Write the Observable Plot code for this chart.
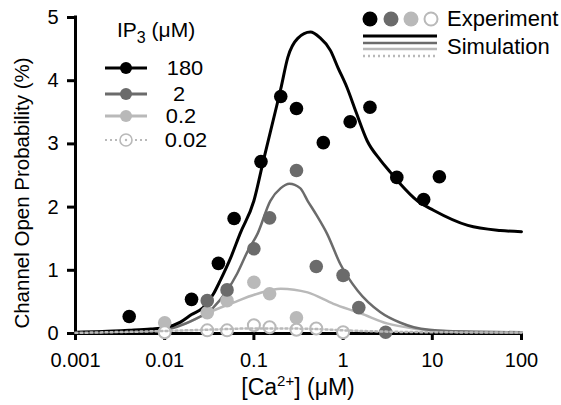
<!DOCTYPE html>
<html>
<head>
<meta charset="utf-8">
<script src="https://cdn.jsdelivr.net/npm/d3@7"></script>
<script src="https://cdn.jsdelivr.net/npm/@observablehq/plot@0.6"></script>
<style>
  html, body { margin: 0; padding: 0; background: #fff; }
</style>
</head>
<body>
<div id="chart"></div>
<script>
// ---- Data ----
const xTicks = [0.001, 0.01, 0.1, 1, 10, 100];
const xTickLabels = ["0.001", "0.01", "0.1", "1", "10", "100"];
const yTicks = [0, 1, 2, 3, 4, 5];

const series = ["180", "2", "0.2", "0.02"];

// Experiment (dots)
const expCa180 = [0.004, 0.02, 0.04, 0.06, 0.12, 0.2, 0.3, 0.6, 1.2, 2, 4, 8, 12];
const expPo180 = [0.27, 0.54, 1.11, 1.82, 2.72, 3.75, 3.56, 3.02, 3.35, 3.58, 2.47, 2.12, 2.48];
const expCa2 = [0.03, 0.05, 0.1, 0.15, 0.3, 0.5, 1, 1.5, 3];
const expPo2 = [0.52, 0.69, 1.34, 1.83, 2.58, 1.06, 0.92, 0.41, 0.02];
const expCa02 = [0.01, 0.03, 0.05, 0.1, 0.15, 0.3];
const expPo02 = [0.17, 0.33, 0.52, 0.81, 0.63, 0.25];
const expCa002 = [0.01, 0.03, 0.05, 0.1, 0.15, 0.3, 0.5, 1];
const expPo002 = [0.02, 0.05, 0.05, 0.13, 0.1, 0.06, 0.08, 0.02];

// Simulation (curves)
const simCa180 = [0.001, 0.002, 0.004, 0.007, 0.01, 0.015, 0.02, 0.027, 0.035, 0.042, 0.055, 0.07, 0.1, 0.128, 0.18, 0.2, 0.24, 0.31, 0.43, 0.55, 0.72, 0.88, 1.1, 1.4, 1.86, 2.63, 3.4, 4.36, 6.8, 10.3, 25, 58, 100];
const simPo180 = [0.02, 0.03, 0.05, 0.07, 0.09, 0.18, 0.30, 0.41, 0.62, 0.84, 1.2, 1.58, 2.1, 2.74, 3.6, 3.87, 4.37, 4.67, 4.77, 4.68, 4.48, 4.2, 3.9, 3.5, 3.05, 2.74, 2.55, 2.37, 2.1, 1.95, 1.71, 1.63, 1.61];
const simCa2 = [0.001, 0.004, 0.01, 0.02, 0.035, 0.05, 0.065, 0.085, 0.11, 0.153, 0.2, 0.25, 0.33, 0.4, 0.5, 0.66, 0.93, 1.45, 2.6, 4.4, 6.2, 14.7, 100];
const simPo2 = [0.02, 0.03, 0.06, 0.2, 0.41, 0.68, 0.95, 1.3, 1.58, 2.1, 2.3, 2.37, 2.3, 2.1, 1.88, 1.58, 1.1, 0.68, 0.34, 0.17, 0.1, 0.04, 0.02];
const simCa02 = [0.001, 0.004, 0.01, 0.018, 0.03, 0.059, 0.11, 0.2, 0.4, 0.78, 1.57, 3.1, 6.2, 20, 100];
const simPo02 = [0.02, 0.04, 0.08, 0.17, 0.32, 0.49, 0.63, 0.71, 0.65, 0.47, 0.32, 0.16, 0.08, 0.03, 0.02];
const simCa002 = [0.001, 0.01, 0.03, 0.1, 0.2, 0.5, 1, 3, 10, 100];
const simPo002 = [0.01, 0.04, 0.06, 0.08, 0.08, 0.07, 0.05, 0.03, 0.02, 0.015];

const colors = {"180": "#000000", "2": "#6b6b6b", "0.2": "#b9b9b9", "0.02": "#b9b9b9"};

const toRows = (xs, ys) => xs.map((x, i) => ({ca: x, po: ys[i]}));
const exp180 = toRows(expCa180, expPo180);
const exp2 = toRows(expCa2, expPo2);
const exp02 = toRows(expCa02, expPo02);
const exp002 = toRows(expCa002, expPo002);
const sim180 = toRows(simCa180, simPo180);
const sim2 = toRows(simCa2, simPo2);
const sim02 = toRows(simCa02, simPo02);
const sim002 = toRows(simCa002, simPo002);

const W = 561, H = 405;
const FONT = "'Liberation Sans', Arial, Helvetica, sans-serif";

const chart = Plot.plot({
  width: W,
  height: H,
  marginLeft: 75,
  marginRight: 40,
  marginTop: 17,
  marginBottom: 72,
  style: {fontFamily: FONT, background: "#fff", color: "#000", overflow: "visible"},
  x: {type: "log", domain: [0.001, 100]},
  y: {domain: [0, 5]},
  marks: [
    Plot.axisX({ticks: xTicks, tickFormat: d => xTickLabels[xTicks.indexOf(d)], tickSize: 7, tickPadding: 12, strokeWidth: 3, fontSize: 20, label: null}),
    Plot.axisY({ticks: yTicks, tickFormat: d => String(d), tickSize: 8, tickPadding: 9, strokeWidth: 3, fontSize: 20, label: null}),
    Plot.ruleY([0], {x1: 0.001, x2: 100, stroke: "#000", strokeWidth: 3}),
    Plot.ruleX([0.001], {y1: 0, y2: 5, stroke: "#000", strokeWidth: 3, strokeLinecap: "square"}),
    Plot.line(sim02, {x: "ca", y: "po", stroke: colors["0.2"], strokeWidth: 2.5, curve: "monotone-x"}),
    Plot.line(sim2, {x: "ca", y: "po", stroke: colors["2"], strokeWidth: 2.5, curve: "monotone-x"}),
    Plot.line(sim180, {x: "ca", y: "po", stroke: colors["180"], strokeWidth: 3, curve: "monotone-x"}),
    Plot.dot(exp02, {x: "ca", y: "po", r: 6.8, fill: colors["0.2"], stroke: "none"}),
    Plot.dot(exp2, {x: "ca", y: "po", r: 6.8, fill: colors["2"], stroke: "none"}),
    Plot.dot(exp180, {x: "ca", y: "po", r: 6.8, fill: colors["180"], stroke: "none"}),
    Plot.dot(exp002, {x: "ca", y: "po", r: 6, fill: "#fff", stroke: colors["0.02"], strokeWidth: 2}),
    Plot.line(sim002, {x: "ca", y: "po", stroke: colors["0.02"], strokeWidth: 2.5, strokeDasharray: "2,3", curve: "monotone-x"})
  ]
});

document.getElementById("chart").appendChild(chart);

const svg = d3.select(chart);

// Axis labels
svg.append("text")
  .attr("transform", "translate(29,193) rotate(-90)")
  .attr("text-anchor", "middle")
  .attr("font-family", FONT).attr("font-size", 20.5).attr("fill", "#000")
  .text("Channel Open Probability (%)");

const xl = svg.append("text")
  .attr("x", 298).attr("y", 395)
  .attr("text-anchor", "middle")
  .attr("font-family", FONT).attr("font-size", 23).attr("fill", "#000");
xl.append("tspan").text("[Ca");
xl.append("tspan").attr("font-size", 15).attr("dy", -9).text("2+");
xl.append("tspan").attr("dy", 9).text("] (μM)");

// Left legend
const ip = svg.append("text")
  .attr("x", 117).attr("y", 37)
  .attr("text-anchor", "start")
  .attr("font-family", FONT).attr("font-size", 21).attr("fill", "#000");
ip.append("tspan").text("IP");
ip.append("tspan").attr("font-size", 16).attr("dy", 6).text("3");
ip.append("tspan").attr("dy", -6).text(" (μM)");

const legRowY = [68, 94, 116, 140];
const legLabelX = [185, 179, 181, 186];
series.forEach((s, i) => {
  const g = svg.append("g");
  const y = legRowY[i];
  const dotted = s === "0.02";
  g.append("line").attr("x1", 105).attr("x2", 147).attr("y1", y).attr("y2", y)
    .attr("stroke", colors[s]).attr("stroke-width", dotted ? 2 : 3)
    .attr("stroke-dasharray", dotted ? "2,3" : null);
  g.append("circle").attr("cx", 126).attr("cy", y).attr("r", 6)
    .attr("fill", dotted ? "#fff" : colors[s])
    .attr("stroke", dotted ? colors[s] : "none").attr("stroke-width", 1.6);
  if (dotted) g.append("circle").attr("cx", 126).attr("cy", y).attr("r", 1.2).attr("fill", colors[s]);
  g.append("text")
    .attr("transform", `translate(${legLabelX[i]},${y + 7}) scale(1.12,1)`)
    .attr("text-anchor", "middle")
    .attr("font-family", FONT).attr("font-size", 19.5).attr("fill", "#000")
    .text(s);
});

// Right legend
const dotX = [370, 391, 411, 431];
series.forEach((s, i) => {
  const open = s === "0.02";
  svg.append("circle").attr("cx", dotX[i]).attr("cy", 19).attr("r", open ? 6.5 : 7.5)
    .attr("fill", open ? "#fff" : colors[s])
    .attr("stroke", open ? colors[s] : "none").attr("stroke-width", 2);
});
svg.append("text").attr("x", 447).attr("y", 26)
  .attr("text-anchor", "start")
  .attr("font-family", FONT).attr("font-size", 22).attr("fill", "#000").text("Experiment");
const simLineY = [36, 43, 49, 56];
series.forEach((s, i) => {
  const dotted = s === "0.02";
  svg.append("line").attr("x1", 363).attr("x2", 437).attr("y1", simLineY[i]).attr("y2", simLineY[i])
    .attr("stroke", colors[s]).attr("stroke-width", i === 0 ? 3 : 2.5)
    .attr("stroke-dasharray", dotted ? "2,3" : null);
});
svg.append("text").attr("x", 447).attr("y", 54)
  .attr("text-anchor", "start")
  .attr("font-family", FONT).attr("font-size", 22).attr("fill", "#000").text("Simulation");
</script>
</body>
</html>
